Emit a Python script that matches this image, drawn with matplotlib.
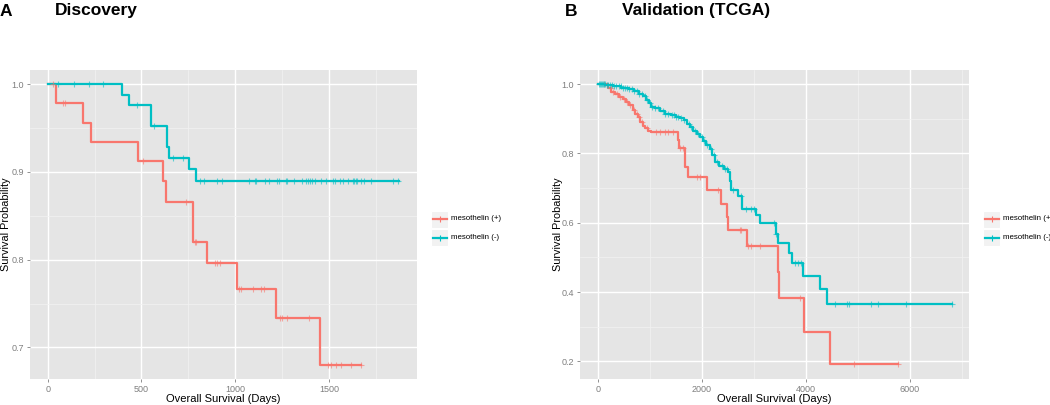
import numpy as np
import matplotlib
matplotlib.use("Agg")
import matplotlib.pyplot as plt
from matplotlib.lines import Line2D
from matplotlib.patches import Rectangle

plt.rcParams['font.family'] = ['Liberation Sans', 'DejaVu Sans']

RED = "#F8766D"
CYAN = "#00BFC4"
labels = ["mesothelin (+)", "mesothelin (-)"]

# ---- Panel A: Discovery (step times, survival after each step, censor times)
a_pos_t = [0, 45, 190, 229, 483, 614, 630, 776, 847, 1008, 1216, 1450]
a_pos_s = [1.0, 0.978, 0.956, 0.934, 0.912, 0.889, 0.866, 0.820, 0.796, 0.767, 0.733, 0.680]
a_pos_end = 1672
a_pos_cens = [30, 80, 92, 506, 740, 785, 793, 891, 903, 918, 1020, 1033, 1095, 1140,
              1154, 1237, 1251, 1276, 1393, 1494, 1512, 1539, 1566, 1619, 1672]

a_neg_t = [0, 398, 433, 550, 634, 646, 753, 792]
a_neg_s = [1.0, 0.988, 0.976, 0.952, 0.928, 0.916, 0.903, 0.889]
a_neg_end = 1875
a_neg_cens = [57, 140, 220, 296, 474, 568, 669, 722, 811, 832, 903, 930, 1074, 1104,
              1113, 1157, 1180, 1223, 1234, 1269, 1276, 1312, 1356, 1376, 1388, 1397,
              1411, 1424, 1459, 1486, 1521, 1530, 1557, 1574, 1601, 1628, 1633, 1642,
              1649, 1672, 1684, 1722, 1841, 1867]

# ---- Panel B: Validation (TCGA)
b_pos_t = [0, 200, 260, 330, 400, 480, 550, 610, 680, 720, 780, 820, 870, 910, 970,
           1030, 1540, 1570, 1680, 1740, 2100, 2370, 2480, 2500, 2860, 3470, 3485,
           3960, 4460]
b_pos_s = [1.0, 0.99, 0.978, 0.970, 0.962, 0.958, 0.948, 0.939, 0.925, 0.915, 0.905,
           0.890, 0.878, 0.872, 0.866, 0.862, 0.840, 0.816, 0.761, 0.732, 0.694, 0.655,
           0.617, 0.579, 0.533, 0.459, 0.384, 0.286, 0.192]
b_pos_end = 5776
b_pos_cens = [120, 250, 300, 380, 420, 500, 560, 620, 700, 750, 800, 850, 950, 1130,
              1190, 1290, 1350, 1450, 1580, 1630, 1900, 1960, 2320, 2730, 2760, 2890,
              2940, 3110, 3880, 4930, 5776]

b_neg_t = [0, 150, 300, 450, 600, 700, 800, 870, 930, 980, 1030, 1100, 1200, 1300,
           1400, 1500, 1580, 1650, 1710, 1770, 1840, 1900, 1960, 2020, 2080, 2150,
           2200, 2250, 2330, 2420, 2500, 2540, 2560, 2700, 2780, 3050, 3110, 3420,
           3470, 3680, 3740, 3950, 4280, 4400]
b_neg_s = [1.0, 0.998, 0.995, 0.990, 0.985, 0.980, 0.972, 0.965, 0.955, 0.945, 0.935,
           0.930, 0.922, 0.915, 0.910, 0.906, 0.902, 0.895, 0.886, 0.876, 0.866, 0.856,
           0.846, 0.835, 0.824, 0.814, 0.795, 0.775, 0.765, 0.756, 0.745, 0.720, 0.694,
           0.677, 0.639, 0.622, 0.598, 0.569, 0.542, 0.513, 0.483, 0.446, 0.408, 0.365]
b_neg_end = 6800
b_neg_cens = [20, 40, 60, 80, 100, 120, 140, 170, 200, 240, 280, 320, 360, 400, 440,
              480, 520, 560, 600, 650, 700, 750, 800, 850, 900, 950, 1000, 1050, 1100,
              1150, 1250, 1300, 1350, 1420, 1460, 1500, 1550, 1600, 1650, 1750, 1800,
              1870, 1920, 2000, 2050, 2100, 2170, 2230, 2300, 2380, 2450, 2480, 2600,
              2750, 2850, 2950, 3000, 3380, 3420, 3800, 3850, 3900, 4560, 4800, 4830,
              5260, 5390, 5920, 6800]

W, H = 1050, 405


def km(ax, t, s, end, cens, color):
    t = np.asarray(t, float)
    s = np.asarray(s, float)
    ax.step(np.append(t, end), np.append(s, s[-1]), where="post", color=color, lw=1.6,
            zorder=3)
    c = np.asarray(cens, float)
    idx = np.searchsorted(t, c, side="right") - 1
    ax.plot(c, s[idx], ls="none", marker="+", ms=5, mew=0.8, color=color, alpha=0.6,
            zorder=4)


def style(ax, xlim, ylim, xmaj, xmin, ymaj, ymin, ylabels, ylab_x):
    ax.set_facecolor("#E5E5E5")
    ax.set_xlim(*xlim)
    ax.set_ylim(*ylim)
    ax.set_xticks(xmaj)
    ax.set_xticks(xmin, minor=True)
    ax.set_yticks(ymaj)
    ax.set_yticklabels(ylabels)
    ax.set_yticks(ymin, minor=True)
    ax.grid(which="major", color="white", lw=1.0)
    ax.grid(which="minor", color="#F2F2F2", lw=0.5)
    ax.set_axisbelow(True)
    for sp in ax.spines.values():
        sp.set_visible(False)
    ax.tick_params(which="major", length=2.5, width=0.6, color="#7F7F7F",
                   labelcolor="#7F7F7F", labelsize=6.5, pad=2)
    ax.tick_params(which="minor", length=0)
    ax.set_xlabel("Overall Survival (Days)", fontsize=8, labelpad=0)
    ax.set_ylabel("Survival Probability", fontsize=7.8)
    ax.yaxis.set_label_coords(ylab_x, 0.5)


def legend(fig, x, y):
    colors = [RED, CYAN]
    for k in range(2):
        yk = y + 18.5 * k
        fig.patches.append(Rectangle((x / W, 1 - (yk + 8.5) / H), 17 / W, 17 / H,
                                     transform=fig.transFigure, facecolor="#F2F2F2",
                                     edgecolor="white", lw=0.8, zorder=0))
        fig.add_artist(Line2D([(x + 1.5) / W, (x + 15.5) / W], [1 - yk / H, 1 - yk / H],
                              transform=fig.transFigure, color=colors[k], lw=1.6))
        fig.add_artist(Line2D([(x + 8.5) / W], [1 - yk / H], transform=fig.transFigure,
                              color=colors[k], marker="+", ms=5, mew=0.8))
        fig.text((x + 20) / W, 1 - yk / H, labels[k], fontsize=5.7, va="center",
                 ha="left", color="black")


fig = plt.figure(figsize=(W / 100, H / 100), dpi=100)

axA = fig.add_axes([30 / W, 26 / H, 387 / W, 309 / H])
km(axA, a_pos_t, a_pos_s, a_pos_end, a_pos_cens, RED)
km(axA, a_neg_t, a_neg_s, a_neg_end, a_neg_cens, CYAN)
style(axA, (-94, 1969), (0.664, 1.016), [0, 500, 1000, 1500], [250, 750, 1250, 1750],
      [0.7, 0.8, 0.9, 1.0], [0.75, 0.85, 0.95], ["0.7", "0.8", "0.9", "1.0"],
      -19 / 387)

axB = fig.add_axes([580 / W, 26 / H, 389 / W, 309 / H])
km(axB, b_pos_t, b_pos_s, b_pos_end, b_pos_cens, RED)
km(axB, b_neg_t, b_neg_s, b_neg_end, b_neg_cens, CYAN)
style(axB, (-340, 7135), (0.1495, 1.0405), [0, 2000, 4000, 6000],
      [1000, 3000, 5000, 7000], [0.2, 0.4, 0.6, 0.8, 1.0], [0.3, 0.5, 0.7, 0.9],
      ["0.2", "0.4", "0.6", "0.8", "1.0"], -17 / 389)

legend(fig, 431, 219)
legend(fig, 983, 219)

fig.text(0 / W, 1 - 11 / H, "A", fontsize=12.5, fontweight="bold", va="center")
fig.text(55 / W, 1 - 11 / H, "Discovery", fontsize=12.5, fontweight="bold", va="center")
fig.text(565 / W, 1 - 11 / H, "B", fontsize=12.5, fontweight="bold", va="center")
fig.text(622 / W, 1 - 11 / H, "Validation (TCGA)", fontsize=12.5, fontweight="bold",
         va="center")

fig.savefig("out.png", dpi=100)
